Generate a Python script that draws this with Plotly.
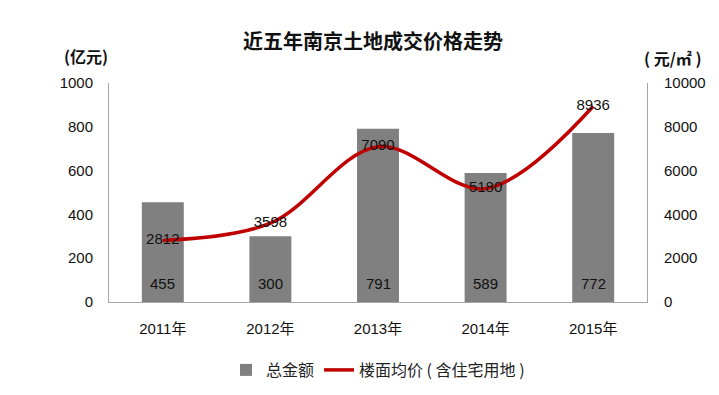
import plotly.graph_objects as go

years = ["2011年", "2012年", "2013年", "2014年", "2015年"]
total_amount = [455, 300, 791, 589, 772]
avg_price = [2812, 3598, 7090, 5180, 8936]
left_ticks = [0, 200, 400, 600, 800, 1000]
right_ticks = [0, 2000, 4000, 6000, 8000, 10000]

FONT = "Liberation Sans, Noto Sans CJK SC, sans-serif"
CJK = "Noto Sans CJK SC, sans-serif"

# the page body adds an 8px offset; work in figure pixels
OFF = 8
W, H = 719, 395
L, R, T, B = 109 - OFF, W - (647 - OFF), 83 - OFF, H - (302 - OFF)
pw = W - L - R
ph = H - T - B

def px(x):
    return (x - OFF - L) / pw

def py(y):
    return (H - B - (y - OFF)) / ph

fig = go.Figure()
fig.add_trace(go.Bar(
    x=years, y=total_amount, name="总金额",
    marker=dict(color="#808080", line=dict(width=0)),
    width=0.39,
    yaxis="y",
))
fig.add_trace(go.Scatter(
    x=years, y=avg_price, name="楼面均价 ( 含住宅用地 )",
    mode="lines+text",
    line=dict(color="#C00000", width=3.5, shape="spline", smoothing=1.0),
    text=[str(v) for v in avg_price],
    textposition="middle center",
    textfont=dict(size=15, color="#111111", family=FONT),
    yaxis="y2",
))

annotations = [
    dict(text="<b>近五年南京土地成交价格走势</b>", x=px(373), xanchor="center",
         y=py(41), yanchor="middle", xref="paper", yref="paper", showarrow=False,
         font=dict(size=20, family=CJK, color="#111111")),
    dict(text="<b>(亿元)</b>", x=px(86), y=py(56), xanchor="center", yanchor="middle",
         xref="paper", yref="paper", showarrow=False,
         font=dict(size=16, family=CJK, color="#111111")),
    dict(text="<b>( 元/㎡ )</b>", x=px(673), y=py(58), xanchor="center", yanchor="middle",
         xref="paper", yref="paper", showarrow=False,
         font=dict(size=16, family=CJK, color="#111111")),
]
for yr, v in zip(years, total_amount):
    annotations.append(dict(text=str(v), x=yr, y=0, xref="x", yref="y",
                            yanchor="middle", yshift=19, showarrow=False,
                            font=dict(size=15, family=FONT, color="#111111")))

fig.update_layout(
    width=W, height=H,
    paper_bgcolor="white", plot_bgcolor="white",
    margin=dict(l=L, r=R, t=T, b=B, autoexpand=False),
    font=dict(family=FONT, size=15, color="#111111"),
    showlegend=True,
    legend=dict(orientation="h", x=(378 - OFF) / W, xanchor="center", xref="container",
                y=1 - (370 - OFF) / H, yanchor="middle", yref="container",
                font=dict(size=16, family=CJK, color="#222222"),
                itemwidth=30, traceorder="normal"),
    xaxis=dict(showline=True, linecolor="#A6A6A6", linewidth=1, ticks="",
               tickfont=dict(size=15, family=FONT), showgrid=False, automargin=False,
               ticklabelstandoff=13),
    yaxis=dict(range=[0, 1000], tickvals=left_ticks, showline=True, linecolor="#A6A6A6",
               linewidth=1, showgrid=False, zeroline=False, ticks="", ticklabelstandoff=12,
               tickfont=dict(size=15), automargin=False),
    yaxis2=dict(range=[0, 10000], tickvals=right_ticks, ticktext=[str(v) for v in right_ticks],
                overlaying="y", side="right",
                showline=True, linecolor="#A6A6A6", linewidth=1, showgrid=False,
                zeroline=False, ticks="", ticklabelstandoff=13, tickfont=dict(size=15),
                automargin=False),
    annotations=annotations,
)

fig.write_html("out.html")
